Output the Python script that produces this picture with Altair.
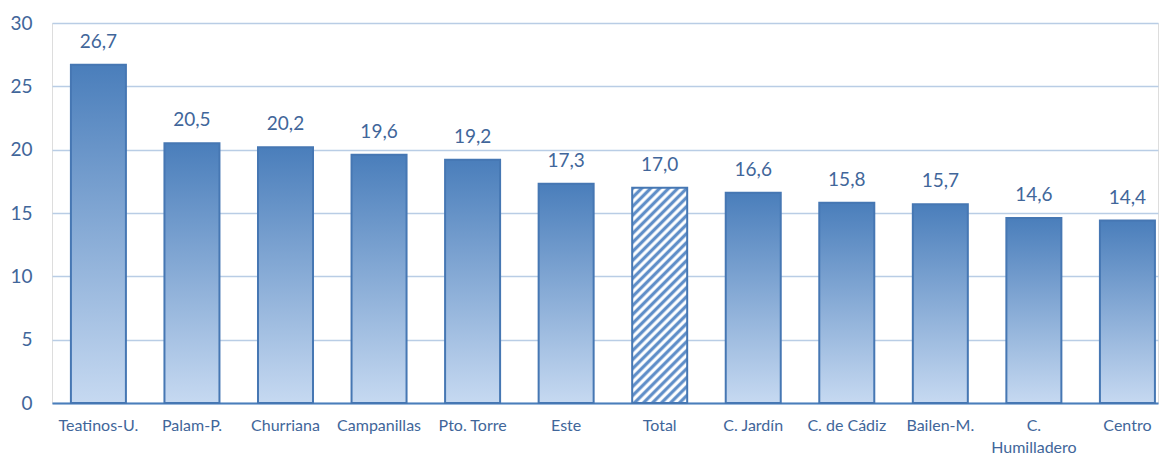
import altair as alt
import pandas as pd

# ---- data ----
categories = ["Teatinos-U.", "Palam-P.", "Churriana", "Campanillas", "Pto. Torre",
              "Este", "Total", "C. Jardín", "C. de Cádiz", "Bailen-M.",
              "C. Humilladero", "Centro"]
values = [26.7, 20.5, 20.2, 19.6, 19.2, 17.3, 17.0, 16.6, 15.8, 15.7, 14.6, 14.4]
y_ticks = [0, 5, 10, 15, 20, 25, 30]
total_name = "Total"

# ---- style ----
TEXT = "#41669a"
BAR_TOP = "#4a7ebb"
BAR_BOTTOM = "#c6d9f1"
STROKE = "#4677b3"
GRID = "#b9cde5"
FONT = "Lato"
Y_MAX = 30
PLOT_W, PLOT_H = 1106, 380

df = pd.DataFrame({"zona": categories, "valor": values})

bar_gradient = {
    "gradient": "linear", "x1": 0, "y1": 0, "x2": 0, "y2": 1,
    "stops": [{"offset": 0, "color": BAR_TOP}, {"offset": 1, "color": BAR_BOTTOM}],
}

# hatch ("/" stripes) for the Total bar, built as a striped gradient
pad_inner, pad_outer = 0.412, 0.1175
step = PLOT_W / (len(categories) - pad_inner + 2 * pad_outer)
w = step * (1 - pad_inner)
h = values[categories.index(total_name)] / Y_MAX * PLOT_H
r = w / h
s = (r + 1) / (r * r + 1)
period_px = 6.4
n_periods = max(1, round((w + h) / (2 ** 0.5) / period_px))
HATCH_BLUE = "#5f8ec8"
stops = []
for k in range(n_periods):
    base = k / n_periods
    p = 1 / n_periods
    stops += [
        {"offset": base, "color": HATCH_BLUE},
        {"offset": base + 0.25 * p, "color": HATCH_BLUE},
        {"offset": base + 0.5 * p, "color": "#ffffff"},
        {"offset": base + 0.75 * p, "color": "#ffffff"},
    ]
stops.append({"offset": 1, "color": HATCH_BLUE})
hatch = {"gradient": "linear", "x1": 0, "y1": 0, "x2": r * s, "y2": s, "stops": stops}

x_enc = alt.X(
    "zona:N", sort=categories,
    scale=alt.Scale(paddingInner=pad_inner, paddingOuter=pad_outer, align=0.86),
    axis=alt.Axis(
        title=None, labelAngle=0, labelFont=FONT, labelFontSize=16, labelColor=TEXT,
        labelPadding=14, ticks=False, domainColor=BAR_TOP, domainWidth=2,
        labelLineHeight=22,
        labelExpr="datum.label == 'C. Humilladero' ? ['C.', 'Humilladero'] : datum.label",
    ),
)
y_enc = alt.Y(
    "valor:Q",
    scale=alt.Scale(domain=[0, Y_MAX], nice=False),
    axis=alt.Axis(
        title=None, values=y_ticks, domain=False, ticks=False, gridColor=GRID,
        gridWidth=1.3, labelFont=FONT, labelFontSize=19, labelColor=TEXT,
        labelPadding=20,
    ),
)

base = alt.Chart(df).encode(x=x_enc, y=y_enc)

bars = base.transform_filter(f"datum.zona != '{total_name}'").mark_bar(
    fill=bar_gradient, stroke=STROKE, strokeWidth=2
)
total_bar = base.transform_filter(f"datum.zona == '{total_name}'").mark_bar(
    fill=hatch, stroke=STROKE, strokeWidth=2
)
labels = base.transform_calculate(
    lab="replace(format(datum.valor, '.1f'), '.', ',')"
).mark_text(
    dy=-17, baseline="alphabetic", font=FONT, fontSize=19, color=TEXT
).encode(text="lab:N")

chart = alt.layer(bars, total_bar, labels).properties(
    width=PLOT_W, height=PLOT_H, autosize="none",
    padding={"left": 52, "top": 23, "right": 1, "bottom": 51},
).configure_view(stroke=None).configure(background="white")

chart.save("out.html", embed_options={"renderer": "svg", "actions": False})
